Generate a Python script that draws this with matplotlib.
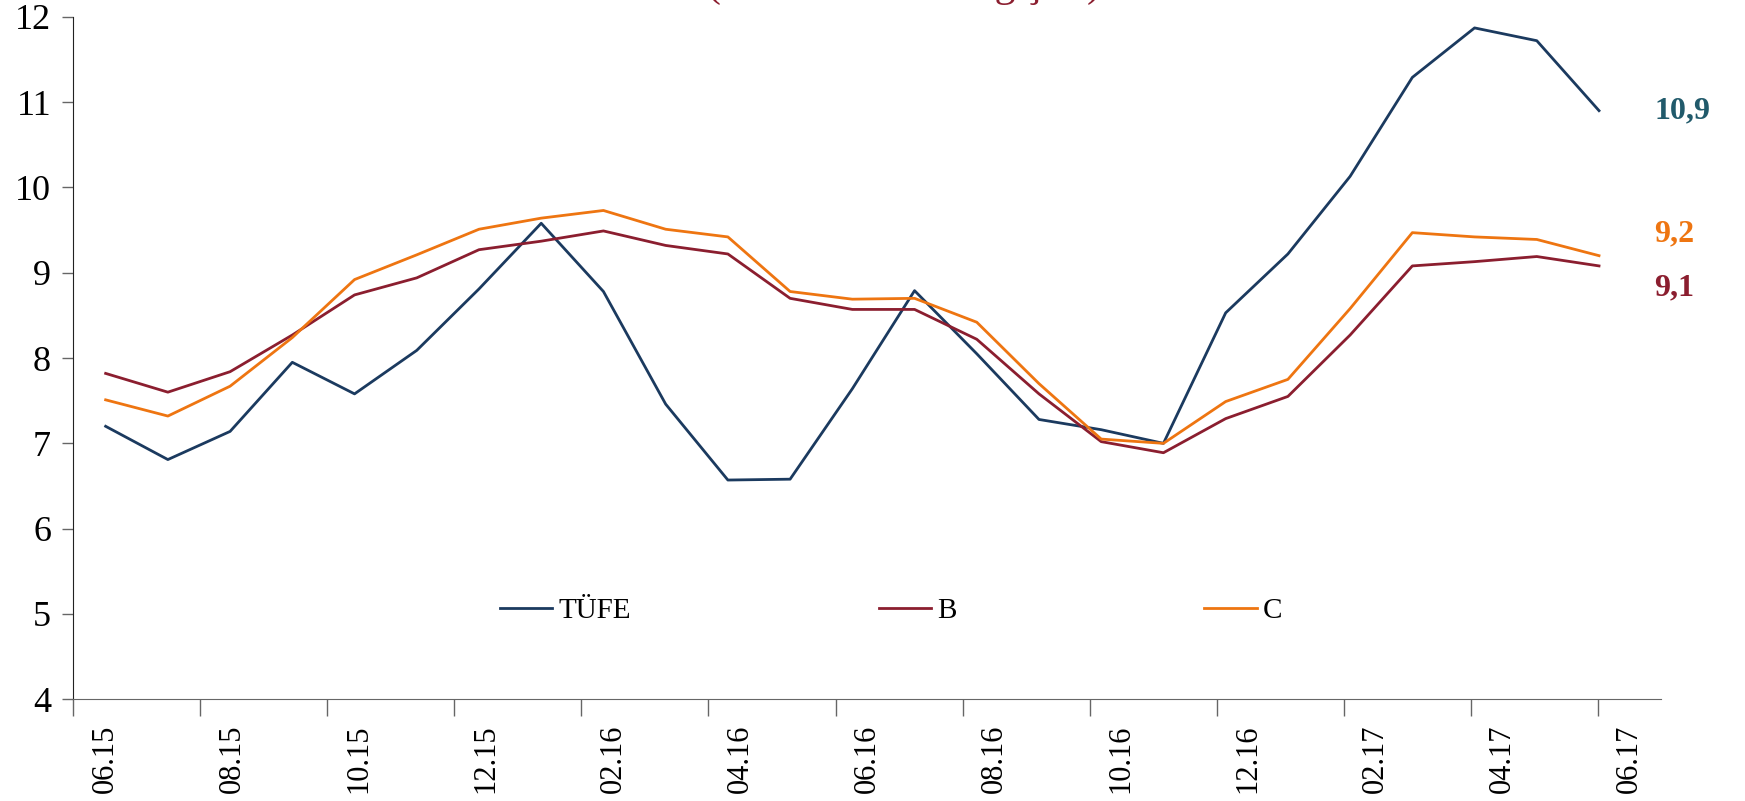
import matplotlib
matplotlib.use('Agg')
import matplotlib.pyplot as plt
import numpy as np

# data
months = ['06.15', '07.15', '08.15', '09.15', '10.15', '11.15', '12.15', '01.16', '02.16',
          '03.16', '04.16', '05.16', '06.16', '07.16', '08.16', '09.16', '10.16', '11.16',
          '12.16', '01.17', '02.17', '03.17', '04.17', '05.17', '06.17']
tufe = [7.20, 6.81, 7.14, 7.95, 7.58, 8.09, 8.81, 9.58, 8.78, 7.46, 6.57, 6.58, 7.64,
        8.79, 8.05, 7.28, 7.16, 7.00, 8.53, 9.22, 10.13, 11.29, 11.87, 11.72, 10.90]
b_idx = [7.82, 7.60, 7.84, 8.27, 8.74, 8.94, 9.27, 9.37, 9.49, 9.32, 9.22, 8.70, 8.57,
         8.57, 8.22, 7.58, 7.02, 6.89, 7.29, 7.55, 8.27, 9.08, 9.13, 9.19, 9.08]
c_idx = [7.51, 7.32, 7.67, 8.24, 8.92, 9.21, 9.51, 9.64, 9.73, 9.51, 9.42, 8.78, 8.69,
         8.70, 8.42, 7.70, 7.05, 7.00, 7.49, 7.75, 8.58, 9.47, 9.42, 9.39, 9.20]
end_labels = ['10,9', '9,2', '9,1']

navy = '#1B3A5F'
maroon = '#8B1E2F'
orange = '#EE7511'

plt.rcParams['font.family'] = ['Liberation Serif', 'DejaVu Serif']

fig = plt.figure(figsize=(17.45, 8.01), dpi=100)
ax = fig.add_axes([0.042, 0.127, 0.910, 0.852])

x = np.arange(len(months))

# category axis (labels + ticks)
ax.set_ylim(4, 12)
ax.set_yticks(range(4, 13))
ax.set_xlim(-0.5, len(months) - 0.5)
ax.set_xticks(x[::2])
ax.set_xticklabels(months[::2], rotation=90, fontsize=22)
ax.set_xticks(np.arange(-0.5, len(months) - 1, 2), minor=True)
ax.tick_params(axis='x', which='major', length=0, pad=18)
ax.tick_params(axis='x', which='minor', length=12, width=1, color='#666666')
ax.tick_params(axis='y', labelsize=26, length=8, width=1, color='#666666', pad=8)
for s in ['top', 'right']:
    ax.spines[s].set_visible(False)
ax.spines['left'].set_color('#222222')
ax.spines['bottom'].set_color('#666666')

# lines sit on a slightly different horizontal scale (secondary axis)
ax2 = ax.twiny()
ax2.set_xlim(-0.52, 25.0)
ax2.set_ylim(4, 12)
ax2.axis('off')
ax2.plot(x, tufe, color=navy, lw=2.0, label='TÜFE')
ax2.plot(x, b_idx, color=maroon, lw=2.0, label='B')
ax2.plot(x, c_idx, color=orange, lw=2.0, label='C')

# end labels
ax2.annotate(end_labels[0], (x[-1], tufe[-1]), xytext=(40, 0), textcoords='offset points',
             va='center', ha='left', color='#215A6B', fontsize=23, fontweight='bold',
             annotation_clip=False)
ax2.annotate(end_labels[1], (x[-1], c_idx[-1]), xytext=(40, 16), textcoords='offset points',
             va='center', ha='left', color=orange, fontsize=23, fontweight='bold',
             annotation_clip=False)
ax2.annotate(end_labels[2], (x[-1], b_idx[-1]), xytext=(40, -16), textcoords='offset points',
             va='center', ha='left', color=maroon, fontsize=23, fontweight='bold',
             annotation_clip=False)

ax2.legend(loc='center', bbox_to_anchor=(0.515, 0.13), ncol=3, frameon=False, fontsize=21,
           handlelength=1.8, handletextpad=0.2, columnspacing=8.5)

fig.text(0.518, 1.0 + 4 / 801, '(Yıllık Yüzde Değişim)', ha='center', va='baseline',
         color=maroon, fontsize=30)

fig.savefig('out.png', dpi=100)
